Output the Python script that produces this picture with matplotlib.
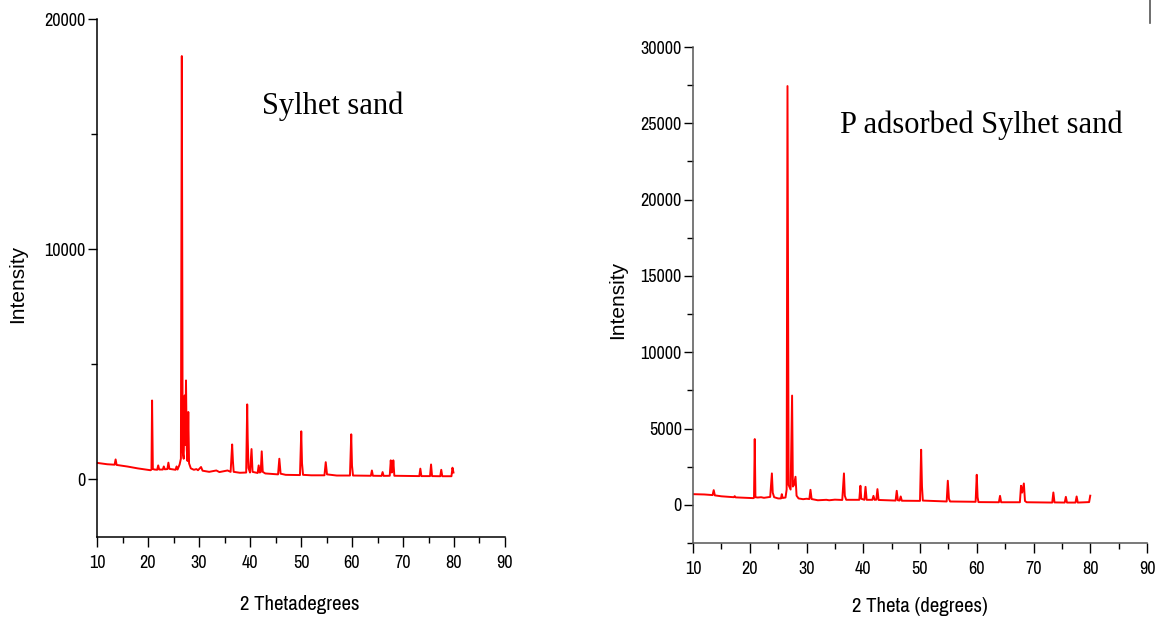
import matplotlib
matplotlib.use('Agg')
import matplotlib.pyplot as plt
from matplotlib import font_manager
from matplotlib.ticker import MultipleLocator

# XRD pattern of Sylhet sand (vertices)
sand_x = [10, 12, 13.45, 13.65, 13.85, 16, 18, 20.5, 20.68, 20.8, 20.95, 21.3, 21.8, 22.0, 22.2,
          22.9, 23.1, 23.3, 23.8, 24.0, 24.2, 25.4, 25.6, 25.8, 26.2, 26.45, 26.63, 26.8, 27.0,
          27.2, 27.3, 27.45, 27.6, 27.75, 27.9, 28.05, 28.4, 29.0, 29.5, 29.8, 30.4, 30.7, 32,
          33.4, 34, 35.6, 36.2, 36.5, 36.65, 36.8, 38, 39.25, 39.45, 39.55, 39.7, 40.0, 40.3,
          40.5, 41.5, 41.7, 41.9, 42.1, 42.3, 42.5, 43, 45.5, 45.75, 46.0, 47, 49.8, 50.05,
          50.2, 50.4, 52, 54.6, 54.85, 55.1, 57, 59.6, 59.85, 60.0, 60.2, 63.7, 63.9, 64.1,
          65.8, 66.0, 66.2, 67.4, 67.6, 67.8, 68.0, 68.1, 68.3, 73.2, 73.4, 73.6, 75.3, 75.5,
          75.7, 77.3, 77.5, 77.7, 79.5, 79.7, 79.9]
sand_y = [720, 660, 640, 870, 630, 560, 480, 400, 430, 3430, 450, 430, 420, 610, 430,
          430, 565, 440, 450, 730, 460, 420, 565, 430, 650, 900, 18390, 1200, 900,
          3650, 1500, 4300, 1300, 800, 2930, 700, 480, 420, 450, 400, 540, 380, 330,
          390, 320, 390, 330, 1520, 800, 330, 290, 300, 3260, 1800, 500, 300, 1320,
          330, 280, 610, 300, 320, 1220, 330, 260, 220, 900, 250, 200, 190, 2090,
          700, 200, 180, 180, 750, 220, 170, 170, 1960, 600, 170, 160, 390, 160,
          155, 320, 155, 160, 830, 300, 400, 830, 160, 145, 470, 145, 145, 650,
          145, 140, 420, 140, 140, 510, 300]

# XRD pattern of P adsorbed Sylhet sand
pads_x = [10, 12, 13.45, 13.65, 13.85, 15, 17.2, 17.35, 17.5, 20.6, 20.75, 20.88, 21.0, 21.4,
          22, 22.5, 23.6, 23.9, 24.05, 24.3, 25.0, 25.5, 25.65, 25.8, 26.3, 26.5, 26.65,
          26.85, 27.2, 27.46, 27.6, 27.8, 28.06, 28.25, 28.6, 29.4, 30.0, 30.5, 30.7, 30.9,
          32, 33.5, 34, 35, 36.3, 36.6, 36.75, 37, 39.3, 39.5, 39.65, 40.2, 40.4, 40.6,
          41.6, 41.8, 42.0, 42.3, 42.5, 42.7, 45.7, 45.9, 46.1, 46.4, 46.6, 46.8, 50.0,
          50.2, 50.35, 50.5, 54.7, 54.9, 55.1, 55.3, 59.8, 60.0, 60.15, 60.3, 63.9, 64.1,
          64.3, 67.6, 67.8, 68.0, 68.3, 68.5, 68.8, 73.3, 73.5, 73.7, 75.5, 75.7, 75.9,
          77.4, 77.6, 77.8, 79.8, 80.0]
pads_y = [700, 680, 640, 965, 620, 560, 500, 570, 490, 440, 460, 4310, 500, 480,
          500, 460, 520, 2060, 800, 500, 420, 420, 700, 450, 480, 1000, 27440,
          1300, 1000, 7160, 1200, 1300, 1840, 600, 420, 370, 400, 380, 985, 380,
          300, 330, 300, 340, 320, 2060, 600, 330, 330, 1250, 400, 330, 1180, 330,
          330, 590, 330, 340, 1030, 320, 280, 920, 300, 280, 550, 270, 260,
          3610, 1200, 280, 220, 1580, 400, 220, 200, 1970, 500, 180, 170, 590,
          170, 170, 1250, 800, 1400, 250, 170, 150, 810, 160, 150, 525, 150,
          150, 550, 150, 180, 600]

W, H = 1161, 620

# use a narrow sans face if one is installed (the original labels are condensed)
installed = sorted({f.name for f in font_manager.fontManager.ttflist})
narrow_names = [n for n in installed if 'Narrow' in n or 'Condensed' in n]
narrow = narrow_names[:1] + ['Liberation Sans', 'DejaVu Sans']
plt.rcParams['font.family'] = narrow
tick_size = 13 if narrow_names else 12

fig = plt.figure(figsize=(W / 100, H / 100), dpi=100)

def px_axes(l, t, r, b):
    return fig.add_axes([l / W, 1 - b / H, (r - l) / W, (b - t) / H])

def style(ax, ytop, ymajor, yminor, spine_col):
    ax.set_xlim(10, 90)
    ax.set_ylim(-2500, ytop)
    ax.xaxis.set_major_locator(MultipleLocator(10))
    ax.xaxis.set_minor_locator(MultipleLocator(5))
    ax.yaxis.set_major_locator(MultipleLocator(ymajor))
    ax.yaxis.set_minor_locator(MultipleLocator(yminor))
    for s in ['top', 'right']:
        ax.spines[s].set_visible(False)
    for s in ['left', 'bottom']:
        ax.spines[s].set_linewidth(1.1)
        ax.spines[s].set_color(spine_col)
    ax.tick_params(which='both', width=1.0, direction='out', labelsize=tick_size)
    ax.tick_params(axis='x', which='major', length=7, pad=6)
    ax.tick_params(axis='x', which='minor', length=4)
    ax.tick_params(axis='y', which='major', length=6.5, pad=1.5)
    ax.tick_params(axis='y', which='minor', length=4)
    ax.set_facecolor('none')

ax1 = px_axes(97, 19, 505, 537)
ax1.plot(sand_x, sand_y, color='#ff0000', lw=1.4)
style(ax1, 20000, 10000, 5000, 'black')

ax2 = px_axes(693, 47, 1147, 543)
ax2.plot(pads_x, pads_y, color='#ff0000', lw=1.4)
style(ax2, 30000, 5000, 2500, '#555555')

fig.text(18 / W, 1 - 284 / H, 'Intensity', rotation=90, ha='center', va='center',
         fontsize=15, family=['Liberation Sans', 'DejaVu Sans'])
fig.text(618 / W, 1 - 300 / H, 'Intensity', rotation=90, ha='center', va='center',
         fontsize=15, family=['Liberation Sans', 'DejaVu Sans'])
fig.text(300 / W, 1 - 605 / H, '2 Thetadegrees', ha='center', va='center', fontsize=15)
fig.text(920 / W, 1 - 607 / H, '2 Theta (degrees)', ha='center', va='center', fontsize=15)

serif = ['Liberation Serif', 'DejaVu Serif']
fig.text(333 / W, 1 - 106 / H, 'Sylhet sand', ha='center', va='center', fontsize=22, family=serif)
fig.text(981 / W, 1 - 125 / H, 'P adsorbed Sylhet sand', ha='center', va='center',
         fontsize=22, family=serif)

# small frame mark at top right corner
fig.add_artist(plt.Line2D([1150 / W, 1150 / W], [1, 1 - 23 / H], color='#555555', lw=1.2))

fig.savefig('out.png', dpi=100)
